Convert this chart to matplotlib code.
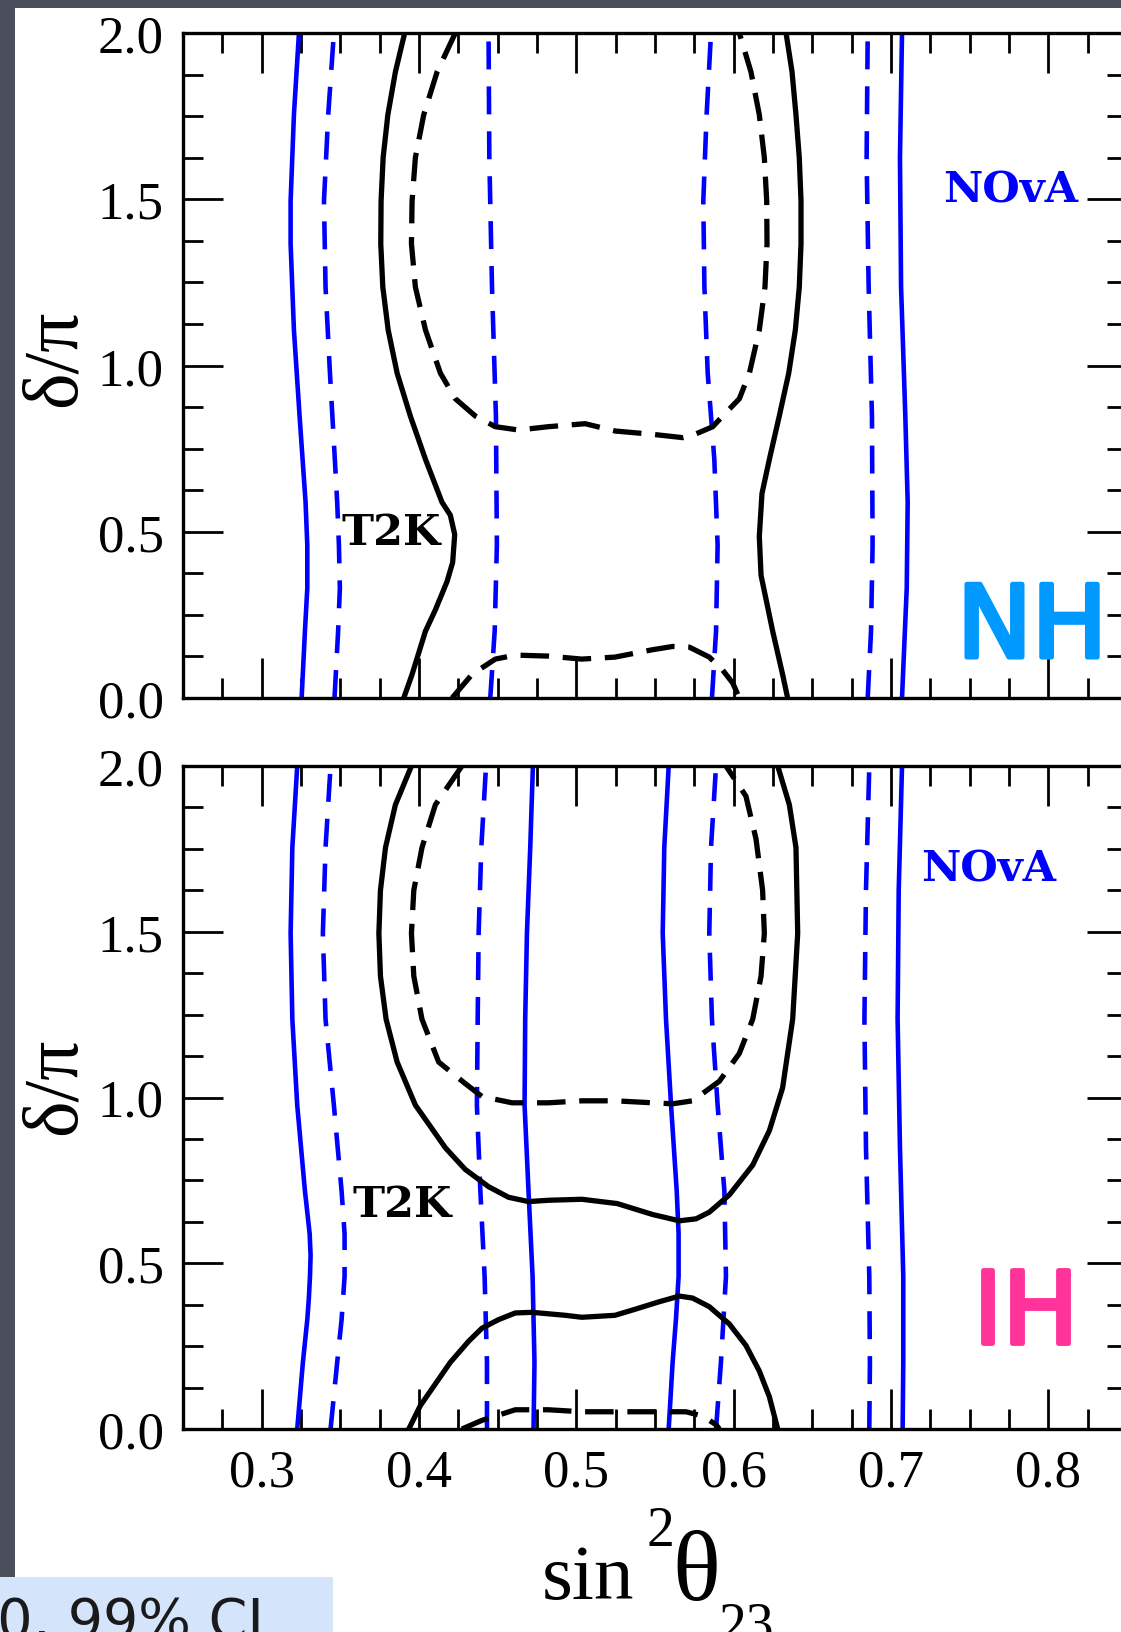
import matplotlib
matplotlib.use("Agg")
import matplotlib.pyplot as plt
from matplotlib.patches import Rectangle
from matplotlib.ticker import MultipleLocator
import matplotlib.patheffects as pe

# ----------------------------------------------------------------- data
X_LIM = (0.25, 0.85)
D_LIM = (0.0, 2.0)
X_TICKS = [0.3, 0.4, 0.5, 0.6, 0.7, 0.8]
X_TICK_LABELS = ["0.3", "0.4", "0.5", "0.6", "0.7", "0.8"]
D_TICKS = [0.0, 0.5, 1.0, 1.5, 2.0]
D_TICK_LABELS = ["0.0", "0.5", "1.0", "1.5", "2.0"]

# ---- NH panel: NOvA contours (x = sin^2 theta23, d = delta/pi)
nh_nova99_left_x = [0.3254, 0.3275, 0.3290, 0.3290, 0.3279, 0.3241, 0.3205, 0.3184, 0.3184, 0.3205, 0.3237]
nh_nova99_left_d = [0.0, 0.201, 0.330, 0.460, 0.589, 0.848, 1.107, 1.366, 1.495, 1.754, 2.0]
nh_nova90_left_x = [0.3463, 0.3486, 0.3497, 0.3491, 0.3480, 0.3465, 0.3434, 0.3406, 0.3396, 0.3423, 0.3459]
nh_nova90_left_d = [0.0, 0.201, 0.330, 0.460, 0.589, 0.718, 0.977, 1.236, 1.495, 1.754, 2.0]
nh_nova90_midl_x = [0.4453, 0.4481, 0.4495, 0.4489, 0.4464, 0.4447, 0.4442]
nh_nova90_midl_d = [0.0, 0.201, 0.460, 0.848, 1.236, 1.625, 2.0]
nh_nova90_midr_x = [0.5862, 0.5888, 0.5898, 0.5877, 0.5856, 0.5835, 0.5814, 0.5807, 0.5828, 0.5856]
nh_nova90_midr_d = [0.0, 0.201, 0.460, 0.718, 0.848, 0.977, 1.236, 1.495, 1.754, 2.0]
nh_nova90_right_x = [0.6852, 0.6873, 0.6883, 0.6879, 0.6858, 0.6845, 0.6852]
nh_nova90_right_d = [0.0, 0.201, 0.460, 0.848, 1.236, 1.625, 2.0]
nh_nova99_right_x = [0.7070, 0.7100, 0.7106, 0.7091, 0.7064, 0.7057, 0.7070]
nh_nova99_right_d = [0.0, 0.330, 0.589, 0.848, 1.236, 1.625, 2.0]

# ---- NH panel: T2K contours
nh_t2k99_left_x = [0.3903, 0.3956, 0.4041, 0.4104, 0.4178, 0.4214, 0.4227, 0.4199, 0.4146, 0.4041,
                   0.3945, 0.3861, 0.3804, 0.3770, 0.3757, 0.3759, 0.3772, 0.3802, 0.3850, 0.3909]
nh_t2k99_left_d = [0.0, 0.071, 0.201, 0.265, 0.350, 0.408, 0.492, 0.550, 0.589, 0.718,
                   0.848, 0.977, 1.107, 1.236, 1.366, 1.495, 1.625, 1.754, 1.883, 2.0]
nh_t2k99_right_x = [0.6343, 0.6311, 0.6248, 0.6174, 0.6163, 0.6180, 0.6227, 0.6290, 0.6350,
                    0.6392, 0.6417, 0.6428, 0.6428, 0.6417, 0.6396, 0.6371, 0.6333]
nh_t2k99_right_d = [0.0, 0.071, 0.201, 0.369, 0.486, 0.615, 0.718, 0.848, 0.977,
                    1.107, 1.236, 1.366, 1.495, 1.625, 1.754, 1.883, 2.0]
nh_t2k90_upper_x = [0.4231, 0.4115, 0.4030, 0.3977, 0.3956, 0.3952, 0.3977, 0.4041, 0.4136, 0.4231,
                    0.4358, 0.4485, 0.4633, 0.4823, 0.5056, 0.5246, 0.5485, 0.5676, 0.5739, 0.5867,
                    0.5930, 0.6036, 0.6100, 0.6163, 0.6199, 0.6212, 0.6210, 0.6195, 0.6163, 0.6110, 0.6036]
nh_t2k90_upper_d = [2.0, 1.883, 1.754, 1.625, 1.495, 1.366, 1.236, 1.107, 0.977, 0.900,
                    0.848, 0.816, 0.806, 0.816, 0.825, 0.803, 0.793, 0.783, 0.790, 0.816,
                    0.848, 0.900, 0.977, 1.107, 1.236, 1.366, 1.495, 1.625, 1.754, 1.883, 2.0]
nh_t2k90_lower_x = [0.4210, 0.4337, 0.4485, 0.4612, 0.4823, 0.5035, 0.5246, 0.5482,
                    0.5612, 0.5718, 0.5845, 0.5930, 0.5994, 0.6036]
nh_t2k90_lower_d = [0.0, 0.071, 0.117, 0.129, 0.126, 0.117, 0.123, 0.145,
                    0.155, 0.153, 0.123, 0.084, 0.045, 0.0]

# ---- IH panel: NOvA contours
ih_nova99_left_x = [0.3226, 0.3262, 0.3290, 0.3300, 0.3307, 0.3311, 0.3305, 0.3290, 0.3275, 0.3226,
                    0.3195, 0.3184, 0.3195, 0.3226]
ih_nova99_left_d = [0.0, 0.201, 0.330, 0.395, 0.460, 0.524, 0.589, 0.654, 0.718, 0.977,
                    1.236, 1.495, 1.754, 2.0]
ih_nova90_left_x = [0.3438, 0.3480, 0.3508, 0.3527, 0.3527, 0.3508, 0.3459, 0.3406, 0.3389, 0.3406, 0.3438]
ih_nova90_left_d = [0.0, 0.201, 0.330, 0.460, 0.589, 0.718, 0.977, 1.236, 1.495, 1.754, 2.0]
ih_nova90_midl_x = [0.4432, 0.4432, 0.4417, 0.4390, 0.4368, 0.4373, 0.4379, 0.4396, 0.4426]
ih_nova90_midl_d = [0.0, 0.201, 0.460, 0.718, 0.977, 1.236, 1.495, 1.754, 2.0]
ih_nova99_midl_x = [0.4728, 0.4734, 0.4722, 0.4696, 0.4671, 0.4675, 0.4686, 0.4707, 0.4724]
ih_nova99_midl_d = [0.0, 0.201, 0.460, 0.718, 0.977, 1.236, 1.495, 1.754, 2.0]
ih_nova99_midr_x = [0.5587, 0.5612, 0.5633, 0.5650, 0.5650, 0.5638, 0.5602, 0.5570, 0.5549, 0.5559, 0.5587]
ih_nova99_midr_d = [0.0, 0.201, 0.330, 0.460, 0.589, 0.718, 0.977, 1.236, 1.495, 1.754, 2.0]
ih_nova90_midr_x = [0.5888, 0.5919, 0.5951, 0.5941, 0.5898, 0.5862, 0.5845, 0.5856, 0.5888]
ih_nova90_midr_d = [0.0, 0.201, 0.460, 0.718, 0.977, 1.236, 1.495, 1.754, 2.0]
ih_nova90_right_x = [0.6862, 0.6866, 0.6862, 0.6841, 0.6831, 0.6841, 0.6862]
ih_nova90_right_d = [0.0, 0.201, 0.460, 0.848, 1.236, 1.625, 2.0]
ih_nova99_right_x = [0.7074, 0.7078, 0.7078, 0.7057, 0.7042, 0.7049, 0.7070]
ih_nova99_right_d = [0.0, 0.201, 0.460, 0.848, 1.236, 1.625, 2.0]

# ---- IH panel: T2K contours
ih_t2k99_upper_x = [0.3952, 0.3850, 0.3787, 0.3755, 0.3745, 0.3755, 0.3791, 0.3861, 0.3977, 0.4168,
                    0.4294, 0.4442, 0.4569, 0.4696, 0.4823, 0.5035, 0.5260, 0.5485, 0.5655, 0.5761,
                    0.5845, 0.5972, 0.6121, 0.6227, 0.6311, 0.6375, 0.6407, 0.6396, 0.6354, 0.6280]
ih_t2k99_upper_d = [2.0, 1.883, 1.754, 1.625, 1.495, 1.366, 1.236, 1.107, 0.977, 0.848,
                    0.783, 0.731, 0.699, 0.686, 0.690, 0.693, 0.680, 0.647, 0.628, 0.634,
                    0.654, 0.706, 0.796, 0.900, 1.029, 1.236, 1.495, 1.754, 1.883, 2.0]
ih_t2k99_lower_x = [0.3935, 0.4009, 0.4104, 0.4199, 0.4316, 0.4400, 0.4506, 0.4612, 0.4717, 0.4929,
                    0.5035, 0.5246, 0.5379, 0.5528, 0.5655, 0.5739, 0.5845, 0.5972, 0.6078, 0.6163,
                    0.6227, 0.6280]
ih_t2k99_lower_d = [0.0, 0.071, 0.136, 0.201, 0.265, 0.304, 0.330, 0.350, 0.352, 0.343,
                    0.337, 0.343, 0.362, 0.384, 0.401, 0.395, 0.369, 0.317, 0.252, 0.175,
                    0.097, 0.0]
ih_t2k90_upper_x = [0.4273, 0.4104, 0.4019, 0.3967, 0.3952, 0.3967, 0.4019, 0.4125, 0.4294, 0.4400,
                    0.4591, 0.4823, 0.5035, 0.5246, 0.5485, 0.5612, 0.5739, 0.5909, 0.6036, 0.6121,
                    0.6174, 0.6195, 0.6184, 0.6142, 0.6078, 0.5951]
ih_t2k90_upper_d = [2.0, 1.883, 1.754, 1.625, 1.495, 1.366, 1.236, 1.107, 1.042, 1.003,
                    0.984, 0.984, 0.990, 0.990, 0.984, 0.981, 0.990, 1.049, 1.133, 1.236,
                    1.366, 1.495, 1.625, 1.780, 1.909, 2.0]
ih_t2k90_lower_x = [0.4273, 0.4400, 0.4612, 0.4823, 0.5035, 0.5246, 0.5485, 0.5697, 0.5803, 0.5888, 0.5909]
ih_t2k90_lower_d = [0.0, 0.026, 0.058, 0.058, 0.052, 0.052, 0.052, 0.052, 0.039, 0.013, 0.0]

# ----------------------------------------------------------------- style
W, H, DPI = 1121, 1633, 100
BG = "#4b4f5b"
BLUE = "#0000ff"
NH_COLOR = "#0099ff"
IH_COLOR = "#ff3399"
SERIF = ["Liberation Serif", "DejaVu Serif"]
LABEL_FONT = ["DejaVu Serif", "Liberation Serif"]

BLUE_LW, BLACK_LW = 3.3, 3.8
BLUE_DASH = (6.1, 3.7)
BLACK_DASH = (5.4, 2.6)

fig = plt.figure(figsize=(W / DPI, H / DPI), dpi=DPI)
fig.patch.set_facecolor(BG)

# white slide area and light-blue caption box
fig.add_artist(Rectangle((15 / W, 0), 1.0, 1 - 9 / H, transform=fig.transFigure,
                         facecolor="white", edgecolor="none", zorder=-10))
fig.add_artist(Rectangle((0, 0), 333 / W, (H - 1578) / H, transform=fig.transFigure,
                         facecolor="#d3e4fb", edgecolor="none", zorder=-9))
fig.text(-38 / W, -5 / H, "90, 99% CL", fontsize=40, family="DejaVu Sans",
         color="#1a1a1a", ha="left", va="baseline", zorder=-8)


def px_axes(left, top, right, bottom):
    return fig.add_axes([left / W, 1 - bottom / H, (right - left) / W, (bottom - top) / H])


def style_axes(ax, show_x):
    ax.set_xlim(X_LIM)
    ax.set_ylim(D_LIM)
    ax.set_xticks(X_TICKS)
    ax.set_yticks(D_TICKS)
    ax.xaxis.set_minor_locator(MultipleLocator(0.025))
    ax.yaxis.set_minor_locator(MultipleLocator(0.125))
    ax.set_yticklabels(D_TICK_LABELS, family=SERIF, fontsize=38)
    if show_x:
        ax.set_xticklabels(X_TICK_LABELS, family=SERIF, fontsize=38)
    else:
        ax.set_xticklabels([])
    ax.tick_params(which="both", direction="in", top=True, right=True,
                   width=2.0, color="black")
    ax.tick_params(which="major", length=29, pad=14)
    ax.tick_params(which="minor", length=14.5)
    for s in ax.spines.values():
        s.set_linewidth(2.4)
    ax.set_facecolor("white")


def blue(ax, x, d, dashed):
    if dashed:
        ax.plot(x, d, color=BLUE, lw=BLUE_LW, dashes=BLUE_DASH)
    else:
        ax.plot(x, d, color=BLUE, lw=BLUE_LW, solid_joinstyle="round")


def black(ax, x, d, dashed):
    if dashed:
        ax.plot(x, d, color="black", lw=BLACK_LW, dashes=BLACK_DASH)
    else:
        ax.plot(x, d, color="black", lw=BLACK_LW, solid_joinstyle="round")


ax_nh = px_axes(183, 34, 1127, 699)
ax_ih = px_axes(183, 767, 1127, 1430)
style_axes(ax_nh, False)
style_axes(ax_ih, True)

# NH panel
blue(ax_nh, nh_nova99_left_x, nh_nova99_left_d, False)
blue(ax_nh, nh_nova90_left_x, nh_nova90_left_d, True)
blue(ax_nh, nh_nova90_midl_x, nh_nova90_midl_d, True)
blue(ax_nh, nh_nova90_midr_x, nh_nova90_midr_d, True)
blue(ax_nh, nh_nova90_right_x, nh_nova90_right_d, True)
blue(ax_nh, nh_nova99_right_x, nh_nova99_right_d, False)
black(ax_nh, nh_t2k99_left_x, nh_t2k99_left_d, False)
black(ax_nh, nh_t2k99_right_x, nh_t2k99_right_d, False)
black(ax_nh, nh_t2k90_upper_x, nh_t2k90_upper_d, True)
black(ax_nh, nh_t2k90_lower_x, nh_t2k90_lower_d, True)

# IH panel
blue(ax_ih, ih_nova99_left_x, ih_nova99_left_d, False)
blue(ax_ih, ih_nova90_left_x, ih_nova90_left_d, True)
blue(ax_ih, ih_nova90_midl_x, ih_nova90_midl_d, True)
blue(ax_ih, ih_nova99_midl_x, ih_nova99_midl_d, False)
blue(ax_ih, ih_nova99_midr_x, ih_nova99_midr_d, False)
blue(ax_ih, ih_nova90_midr_x, ih_nova90_midr_d, True)
blue(ax_ih, ih_nova90_right_x, ih_nova90_right_d, True)
blue(ax_ih, ih_nova99_right_x, ih_nova99_right_d, False)
black(ax_ih, ih_t2k99_upper_x, ih_t2k99_upper_d, False)
black(ax_ih, ih_t2k99_lower_x, ih_t2k99_lower_d, False)
black(ax_ih, ih_t2k90_upper_x, ih_t2k90_upper_d, True)
black(ax_ih, ih_t2k90_lower_x, ih_t2k90_lower_d, True)

# in-panel labels
ax_nh.text(0.351, 0.50, "T2K", family=LABEL_FONT, fontweight="bold", fontsize=31,
           color="black", ha="left", va="center")
ax_nh.text(0.733, 1.53, "NOvA", family=LABEL_FONT, fontweight="bold", fontsize=31,
           color=BLUE, ha="left", va="center")
ax_nh.text(0.742, 0.123, "NH", family="DejaVu Sans", fontsize=72,
           color=NH_COLOR, ha="left", va="baseline",
           path_effects=[pe.withStroke(linewidth=3.5, foreground=NH_COLOR,
                                       joinstyle="round", capstyle="round")])
ax_ih.text(0.358, 0.68, "T2K", family=LABEL_FONT, fontweight="bold", fontsize=31,
           color="black", ha="left", va="center")
ax_ih.text(0.719, 1.69, "NOvA", family=LABEL_FONT, fontweight="bold", fontsize=31,
           color=BLUE, ha="left", va="center")
ax_ih.text(0.752, 0.259, "IH", family="DejaVu Sans", fontsize=72,
           color=IH_COLOR, ha="left", va="baseline",
           path_effects=[pe.withStroke(linewidth=3.5, foreground=IH_COLOR,
                                       joinstyle="round", capstyle="round")])

# axis titles
for yc in (358, 1086):
    fig.text(56 / W, 1 - yc / H, "\u03b4/\u03c0", family=SERIF, fontsize=56,
             rotation=90, ha="center", va="center")

fig.text(542 / W, 1 - 1599 / H, "sin", family=SERIF, fontsize=57, ha="left", va="baseline")
fig.text(647 / W, 1 - 1546 / H, "2", family=SERIF, fontsize=40, ha="left", va="baseline")
fig.text(672 / W, 1 - 1600 / H, "\u03b8", family=SERIF, fontsize=72, ha="left", va="baseline")
fig.text(719 / W, 1 - 1642 / H, "23", family=SERIF, fontsize=40, ha="left", va="baseline")

fig.savefig("out.png", dpi=DPI, facecolor=fig.get_facecolor())
